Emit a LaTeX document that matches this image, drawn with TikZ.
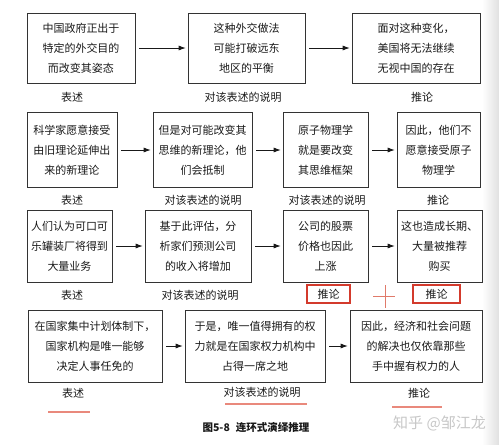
\documentclass[tikz,border=0pt]{standalone}
\usepackage{fontspec}
\newfontfamily\cjk{Noto Sans CJK SC}
\usetikzlibrary{arrows.meta}
\definecolor{redA}{HTML}{D33A2C}
\definecolor{redB}{HTML}{E9897C}
\definecolor{redC}{HTML}{E07A6A}
\begin{document}
\begin{tikzpicture}[x=1pt,y=-1pt,
  box/.style={draw=black!80, line width=0.6pt, align=center, inner sep=0pt,
    font=\cjk\fontsize{11}{20}\selectfont, text=black!90},
  lab/.style={font=\cjk\fontsize{11}{13}\selectfont, text=black!90, inner sep=0pt},
  arr/.style={-{Latex[length=7pt,width=5pt]}, line width=0.7pt, draw=black!90,
    shorten <=4pt, shorten >=2pt},
  redbox/.style={draw=redA, line width=1.4pt, minimum height=18pt},
  redline/.style={draw=redB, line width=1.2pt},
  cross/.style={draw=redC, line width=0.8pt}
]
\useasboundingbox (0,0) rectangle (499,445);
\shade[left color=white, right color=black!12] (482,0) rectangle (499,445);

% Row 1
\node[box, minimum width=108pt, minimum height=70pt] (a1) at (81,48)
  {中国政府正出于\\特定的外交目的\\而改变其姿态};
\node[box, minimum width=117pt, minimum height=70pt] (a2) at (246.5,48)
  {这种外交做法\\可能打破远东\\地区的平衡};
\node[box, minimum width=128pt, minimum height=70pt] (a3) at (416,48)
  {面对这种变化，\\美国将无法继续\\无视中国的存在};
\node[lab] (la1) at (72,97) {表述};
\node[lab] (la2) at (243,97) {对该表述的说明};
\node[lab] (la3) at (422,97) {推论};
\draw[arr] (a1) -- (a2);
\draw[arr] (a2) -- (a3);

% Row 2
\node[box, minimum width=90pt, minimum height=75pt] (b1) at (72,150)
  {科学家愿意接受\\由旧理论延伸出\\来的新理论};
\node[box, minimum width=99pt, minimum height=75pt] (b2) at (202.5,150)
  {但是对可能改变其\\思维的新理论，他\\们会抵制};
\node[box, minimum width=85pt, minimum height=75pt] (b3) at (325.5,150)
  {原子物理学\\就是要改变\\其思维框架};
\node[box, minimum width=83pt, minimum height=75pt] (b4) at (438.5,150)
  {因此，他们不\\愿意接受原子\\物理学};
\node[lab] (lb1) at (72,200) {表述};
\node[lab] (lb2) at (203,200) {对该表述的说明};
\node[lab] (lb3) at (327,200) {对该表述的说明};
\node[lab] (lb4) at (438,200) {推论};
\draw[arr] (b1) -- (b2);
\draw[arr] (b2) -- (b3);
\draw[arr] (b3) -- (b4);

% Row 3
\node[box, minimum width=85pt, minimum height=72pt] (c1) at (69.5,246)
  {人们认为可口可\\乐罐装厂将得到\\大量业务};
\node[box, minimum width=106pt, minimum height=72pt] (c2) at (198,246)
  {基于此评估，分\\析家们预测公司\\的收入将增加};
\node[box, minimum width=85pt, minimum height=72pt] (c3) at (325.5,246)
  {公司的股票\\价格也因此\\上涨};
\node[box, minimum width=85pt, minimum height=72pt] (c4) at (439.5,246)
  {这也造成长期、\\大量被推荐\\购买};
\node[lab] (lc1) at (72,295) {表述};
\node[lab] (lc2) at (200,295) {对该表述的说明};
\node[lab, redbox, minimum width=43pt] (lc3) at (328.5,294) {推论};
\node[lab, redbox, minimum width=47pt] (lc4) at (436.5,294) {推论};
\draw[arr] (c1) -- (c2);
\draw[arr] (c2) -- (c3);
\draw[arr] (c3) -- (c4);
\coordinate (xt) at (385,285);
\coordinate (xb) at (385,308);
\coordinate (xl) at (373,296);
\coordinate (xr) at (395,296);
\draw[cross] (xt) -- (xb);
\draw[cross] (xl) -- (xr);

% Row 4
\node[box, minimum width=134pt, minimum height=72pt] (d1) at (95,346)
  {在国家集中计划体制下，\\国家机构是唯一能够\\决定人事任免的};
\node[box, minimum width=140pt, minimum height=72pt] (d2) at (255,346)
  {于是，唯一值得拥有的权\\力就是在国家权力机构中\\占得一席之地};
\node[box, minimum width=132pt, minimum height=72pt] (d3) at (416,346)
  {因此，经济和社会问题\\的解决也仅依靠那些\\手中握有权力的人};
\node[lab] (ld1) at (73,393) {表述};
\node[lab] (ld2) at (262,392) {对该表述的说明};
\node[lab] (ld3) at (419,393) {推论};
\draw[arr] (d1) -- (d2);
\draw[arr] (d2) -- (d3);
\coordinate (u1a) at (48,412);
\coordinate (u1b) at (90,412);
\coordinate (u2a) at (225,404);
\coordinate (u2b) at (307,404);
\coordinate (u3a) at (392,407);
\coordinate (u3b) at (442,407);
\draw[redline] (u1a) -- (u1b);
\draw[redline] (u2a) -- (u2b);
\draw[redline] (u3a) -- (u3b);

% Caption and watermark
\node[font=\cjk\bfseries\fontsize{10.5}{12}\selectfont, inner sep=0pt, text=black!90] (cap) at (256,428)
  {图5-8\hspace{6pt}连环式演绎推理};
\node[font=\cjk\fontsize{15}{17}\selectfont, inner sep=0pt, text=black!22] (wm) at (439.5,423)
  {知乎 @邹江龙};
\end{tikzpicture}
\end{document}
